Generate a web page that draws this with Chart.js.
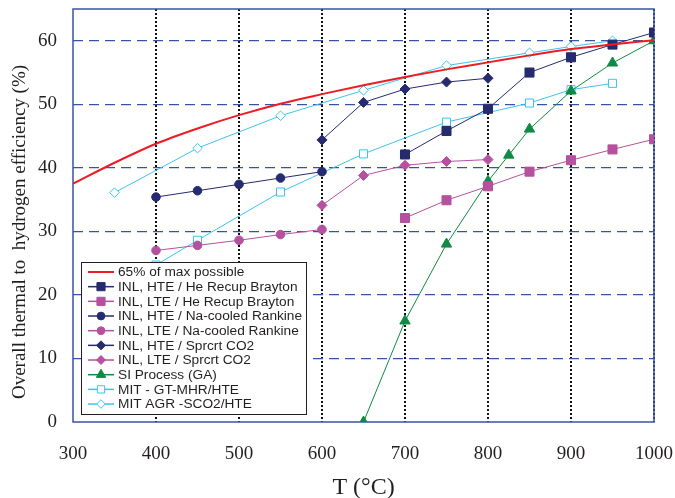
<!DOCTYPE html>
<html>
<head>
<meta charset="utf-8">
<script src="https://cdn.jsdelivr.net/npm/chart.js@4.4.0/dist/chart.umd.min.js"></script>
<style>
  html, body { margin: 0; padding: 0; background: #fff; }
  canvas { display: block; }
</style>
</head>
<body>
<canvas id="effChart" width="675" height="498"></canvas>
<script>
// values: temperature (°C) and efficiency (%)
const maxTemps = [300, 350, 400, 450, 500, 550, 600, 650, 700, 750, 800, 850, 900, 950, 1000];
const maxEff = [37.5, 40.8, 43.8, 46.2, 48.3, 50.1, 51.6, 53.0, 54.3, 55.5, 56.6, 57.7, 58.7, 59.4, 60.1];

const braytonTemps = [700, 750, 800, 850, 900, 950, 1000];
const hteBrayton = [42.1, 45.8, 49.3, 55.0, 57.4, 59.4, 61.3];
const lteBrayton = [32.1, 34.9, 37.1, 39.4, 41.2, 42.9, 44.5];

const rankineTemps = [400, 450, 500, 550, 600];
const hteRankine = [35.4, 36.4, 37.4, 38.4, 39.4];
const lteRankine = [27.0, 27.8, 28.6, 29.5, 30.3];

const co2Temps = [600, 650, 700, 750, 800];
const hteCO2 = [44.4, 50.3, 52.4, 53.5, 54.1];
const lteCO2 = [34.1, 38.8, 40.4, 41.0, 41.3];

const siTemps = [650, 700, 750, 800, 825, 850, 900, 950, 1000];
const siEff = [0, 15.9, 28.0, 37.9, 42.0, 46.1, 52.1, 56.5, 60.0];

const gtmhrTemps = [400, 450, 550, 650, 750, 850, 900, 950];
const gtmhrEff = [24.7, 28.6, 36.2, 42.2, 47.2, 50.2, 52.3, 53.3];

const agrTemps = [350, 450, 550, 650, 750, 850, 900, 950];
const agrEff = [36.1, 43.1, 48.2, 52.2, 56.1, 58.1, 59.1, 60.0];

const xTicks = [300, 400, 500, 600, 700, 800, 900, 1000];
const yTicks = [0, 10, 20, 30, 40, 50, 60];

const seriesNames = [
    '65% of max possible',
    'INL, HTE / He Recup Brayton',
    'INL, LTE / He Recup Brayton',
    'INL, HTE / Na-cooled Rankine',
    'INL, LTE / Na-cooled Rankine',
    'INL, HTE / Sprcrt CO2',
    'INL, LTE / Sprcrt CO2',
    'SI Process (GA)',
    'MIT - GT-MHR/HTE',
    'MIT AGR -SCO2/HTE'
];

const NAVY = '#262a6e';
const PINK = '#b5519e';
const GREEN = '#0f8a45';
const CYAN = '#3cc4ef';
const RED = '#ed1c24';
const AXIS_BLUE = '#3953a4';
const serif = "'Liberation Serif', 'Times New Roman', serif";

const pts = (xs, ys) => xs.map((x, i) => ({ x: x, y: ys[i] }));

function series(label, xs, ys, color, style, radius, open) {
    return {
        label: label,
        data: pts(xs, ys),
        borderColor: color,
        backgroundColor: color,
        borderWidth: 1,
        pointStyle: style,
        pointRadius: radius,
        pointBorderWidth: 1,
        pointBorderColor: color,
        pointBackgroundColor: open ? '#ffffff' : color,
        tension: 0
    };
}

const datasets = [
    {
        label: seriesNames[0],
        data: pts(maxTemps, maxEff),
        borderColor: RED,
        backgroundColor: RED,
        borderWidth: 2,
        pointRadius: 0,
        cubicInterpolationMode: 'monotone'
    },
    series(seriesNames[1], braytonTemps, hteBrayton, NAVY, 'rect', 6.4, false),
    series(seriesNames[2], braytonTemps, lteBrayton, PINK, 'rect', 6.4, false),
    series(seriesNames[3], rankineTemps, hteRankine, NAVY, 'circle', 4.3, false),
    series(seriesNames[4], rankineTemps, lteRankine, PINK, 'circle', 4.3, false),
    series(seriesNames[5], co2Temps, hteCO2, NAVY, 'rectRot', 5, false),
    series(seriesNames[6], co2Temps, lteCO2, PINK, 'rectRot', 5, false),
    series(seriesNames[7], siTemps, siEff, GREEN, 'triangle', 6, false),
    series(seriesNames[8], gtmhrTemps, gtmhrEff, CYAN, 'rect', 5.7, true),
    series(seriesNames[9], agrTemps, agrEff, CYAN, 'rectRot', 4.8, true)
];

// blue frame around the plot area
const frame = {
    id: 'frame',
    beforeDatasetsDraw(chart) {
        const a = chart.chartArea;
        const ctx = chart.ctx;
        ctx.save();
        ctx.strokeStyle = AXIS_BLUE;
        ctx.lineWidth = 1.5;
        ctx.strokeRect(a.left, a.top, a.right - a.left, a.bottom - a.top);
        ctx.restore();
    }
};

// rotated y title, sitting a bit below the plot centre as in the figure
const yTitle = {
    id: 'yTitle',
    afterDraw(chart) {
        const ctx = chart.ctx;
        ctx.save();
        ctx.translate(20, 232);
        ctx.rotate(-Math.PI / 2);
        ctx.fillStyle = '#231f20';
        ctx.font = '19px ' + serif;
        ctx.textAlign = 'center';
        ctx.textBaseline = 'middle';
        ctx.fillText('Overall thermal to  hydrogen efficiency (%)', 0, 0);
        ctx.restore();
    }
};

// boxed legend in the lower left of the plot
const legendBox = {
    id: 'legendBox',
    afterDraw(chart) {
        const ctx = chart.ctx;
        ctx.save();
        ctx.fillStyle = '#ffffff';
        ctx.fillRect(81.5, 262.5, 225, 152);
        ctx.strokeStyle = '#231f20';
        ctx.lineWidth = 1;
        ctx.strokeRect(81.5, 262.5, 225, 152);
        ctx.font = '13.7px "Liberation Sans", Arial, sans-serif';
        ctx.textBaseline = 'middle';
        chart.data.datasets.forEach((ds, i) => {
            const y = 272 + i * 14.67;
            ctx.strokeStyle = ds.borderColor;
            ctx.lineWidth = ds.borderWidth === 2 ? 2 : 1.5;
            ctx.beginPath();
            ctx.moveTo(88, y);
            ctx.lineTo(114, y);
            ctx.stroke();
            if (ds.pointRadius) {
                ctx.fillStyle = ds.pointBackgroundColor;
                ctx.strokeStyle = ds.pointBorderColor;
                ctx.lineWidth = 1;
                Chart.helpers.drawPoint(ctx, {
                    pointStyle: ds.pointStyle,
                    radius: ds.pointRadius * 0.9,
                    rotation: 0,
                    borderWidth: 1
                }, 101, y);
            }
            ctx.fillStyle = '#231f20';
            ctx.fillText(ds.label, 118, y + 0.5);
        });
        ctx.restore();
    }
};

const ctx = document.getElementById('effChart').getContext('2d');
const effChart = new Chart(ctx, {
    type: 'line',
    data: { datasets: datasets },
    options: {
        responsive: false,
        animation: false,
        layout: { padding: { top: 9, right: 21, left: 0, bottom: 0 } },
        plugins: {
            legend: { display: false },
            tooltip: { enabled: false }
        },
        scales: {
            x: {
                type: 'linear',
                min: 300,
                max: 1000,
                afterBuildTicks: s => { s.ticks = xTicks.map(v => ({ value: v })); },
                afterFit: s => { s.height = 76; s.paddingLeft = 0; s.paddingRight = 0; },
                grid: {
                    color: c => (c.tick && c.tick.value > 300) ? '#111111' : 'rgba(0,0,0,0)',
                    lineWidth: 2,
                    drawTicks: false
                },
                border: { display: false, dash: [2, 2] },
                ticks: {
                    padding: 21,
                    color: '#231f20',
                    font: { family: serif, size: 19 },
                    callback: v => String(v)
                },
                title: {
                    display: true,
                    text: 'T (°C)',
                    color: '#231f20',
                    font: { family: serif, size: 24, lineHeight: 0.85 },
                    padding: 0
                }
            },
            y: {
                min: 0,
                max: 65,
                afterBuildTicks: s => { s.ticks = yTicks.map(v => ({ value: v })); },
                afterFit: s => { s.width = 73; s.paddingTop = 0; s.paddingBottom = 0; },
                grid: {
                    color: c => (c.tick && c.tick.value > 0) ? AXIS_BLUE : 'rgba(0,0,0,0)',
                    lineWidth: 1.2,
                    drawTicks: false
                },
                border: { display: false, dash: [10, 6] },
                ticks: {
                    padding: 16,
                    color: '#231f20',
                    font: { family: serif, size: 19 }
                }
            }
        }
    },
    plugins: [frame, yTitle, legendBox]
});
</script>
</body>
</html>
